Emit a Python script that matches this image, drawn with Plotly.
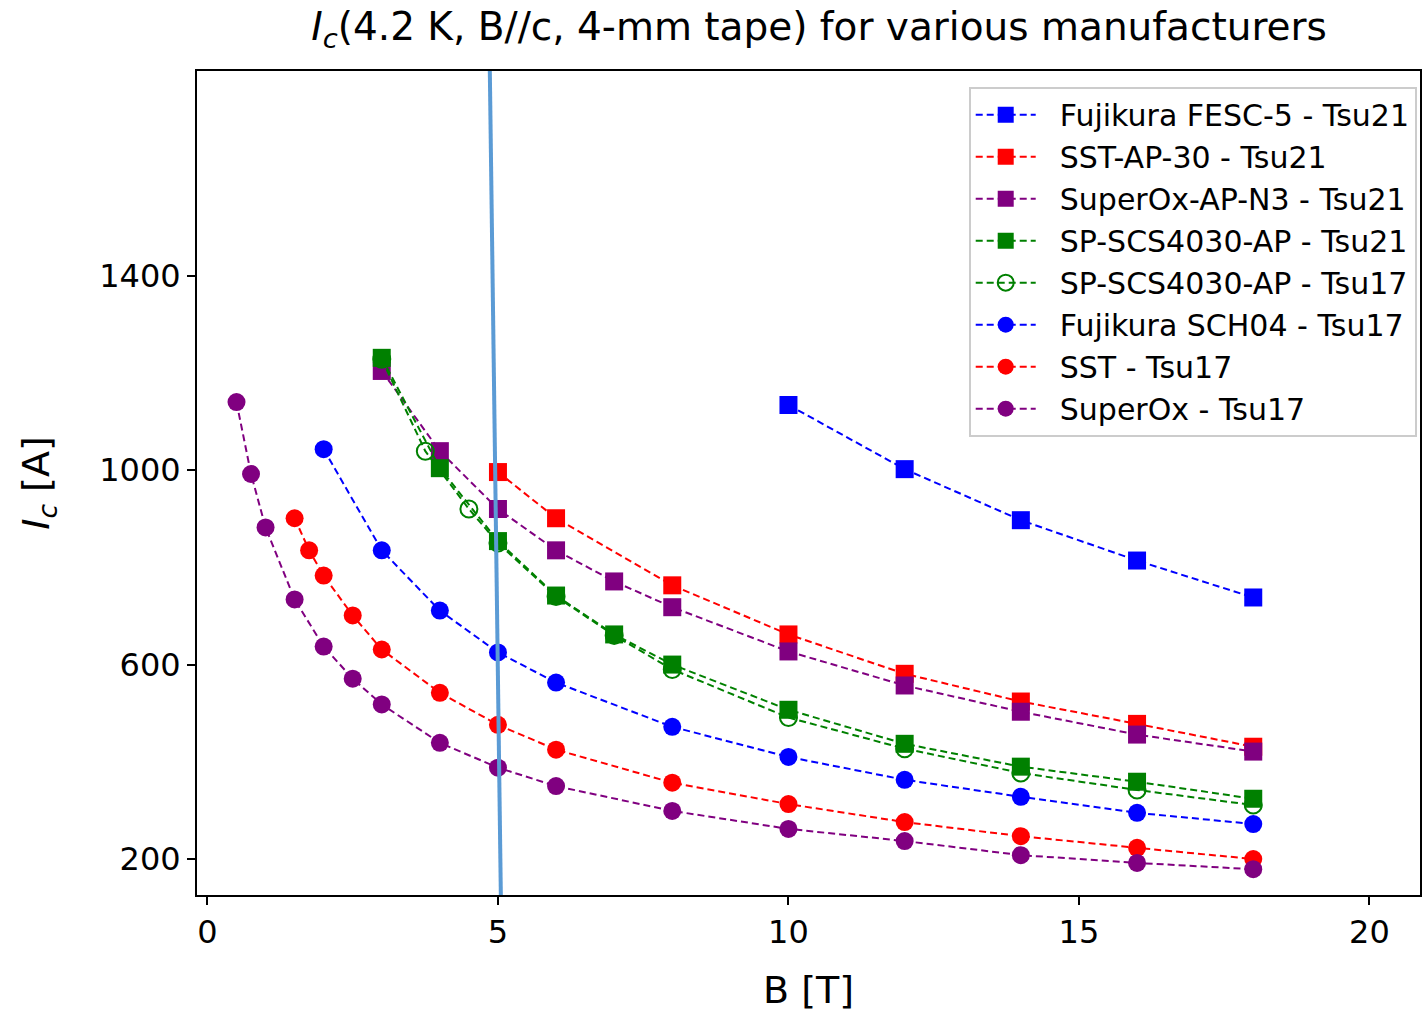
import plotly.graph_objects as go

# ---- data ----
fesc5_x = [10, 12, 14, 16, 18]
fesc5_y = [1134, 1002, 897, 814, 738]

sstap_x = [5, 6, 8, 10, 12, 14, 16, 18]
sstap_y = [996, 901, 763, 662, 581, 524, 478, 431]

soxap_x = [3, 4, 5, 6, 7, 8, 10, 12, 14, 16, 18]
soxap_y = [1204, 1039, 920, 835, 771, 718, 627, 557, 503, 456, 421]

sp21_x = [3, 4, 5, 6, 7, 8, 10, 12, 14, 16, 18]
sp21_y = [1231, 1004, 854, 742, 662, 600, 507, 437, 390, 359, 324]

sp17_x = [3, 3.75, 4.5, 5, 6, 7, 8, 10, 12, 14, 16, 18]
sp17_y = [1228, 1039, 920, 850, 740, 660, 590, 491, 427, 377, 342, 311]

fsch_x = [2, 3, 4, 5, 6, 8, 10, 12, 14, 16, 18]
fsch_y = [1043, 835, 711, 625, 563, 472, 410, 363, 328, 295, 272]

sst17_x = [1.5, 1.75, 2, 2.5, 3, 4, 5, 6, 8, 10, 12, 14, 16, 18]
sst17_y = [901, 835, 783, 701, 631, 542, 476, 425, 357, 313, 276, 247, 223, 200]

sox17_x = [0.5, 0.75, 1, 1.5, 2, 2.5, 3, 4, 5, 6, 8, 10, 12, 14, 16, 18]
sox17_y = [1140, 992, 882, 734, 637, 571, 518, 439, 388, 350, 299, 262, 237, 208, 192, 179]

marker_line_x = [4.86, 5.05]
marker_line_y = [1821, 124]

series = [
    ("Fujikura FESC-5 - Tsu21", fesc5_x, fesc5_y, "blue", "square"),
    ("SST-AP-30 - Tsu21", sstap_x, sstap_y, "red", "square"),
    ("SuperOx-AP-N3 - Tsu21", soxap_x, soxap_y, "purple", "square"),
    ("SP-SCS4030-AP - Tsu21", sp21_x, sp21_y, "green", "square"),
    ("SP-SCS4030-AP - Tsu17", sp17_x, sp17_y, "green", "circle-open"),
    ("Fujikura SCH04 - Tsu17", fsch_x, fsch_y, "blue", "circle"),
    ("SST - Tsu17", sst17_x, sst17_y, "red", "circle"),
    ("SuperOx - Tsu17", sox17_x, sox17_y, "purple", "circle"),
]

FONT = "DejaVu Sans"
NBSP = "\u00a0"
fig = go.Figure()
for name, xs, ys, col, sym in series:
    if sym == "circle-open":
        mk = dict(symbol=sym, size=17, color=col, line=dict(width=2, color=col))
    else:
        mk = dict(symbol=sym, size=18, color=col, line=dict(width=0))
    fig.add_trace(go.Scatter(
        x=xs, y=ys, name=NBSP * 2 + name, mode="lines+markers",
        line=dict(color=col, width=2, dash="7px,4px"),
        marker=mk,
    ))

fig.add_trace(go.Scatter(
    x=marker_line_x, y=marker_line_y, mode="lines", showlegend=False,
    line=dict(color="#5b9bd5", width=4), hoverinfo="skip",
))

fig.update_layout(
    width=1422, height=1012,
    margin=dict(l=197, r=0, t=71, b=117),
    paper_bgcolor="white", plot_bgcolor="white",
    font=dict(family=FONT, color="black", size=32),
    title=dict(
        text="<i>I</i><sub><i>c</i></sub>(4.2 K, B//c, 4-mm tape) for various manufacturers",
        font=dict(family=FONT, size=39, color="black"),
        x=0.576, xref="container", xanchor="center",
        y=0.974, yref="container", yanchor="middle",
    ),
    xaxis=dict(
        range=[-0.18, 20.87], tickvals=[0, 5, 10, 15, 20],
        ticks="outside", ticklen=8, tickwidth=1.5, tickcolor="black",
        showline=True, linecolor="black", linewidth=2, mirror=True,
        showgrid=False, zeroline=False,
        tickfont=dict(family=FONT, size=32),
        title=dict(text="B [T]", font=dict(family=FONT, size=38), standoff=26),
    ),
    yaxis=dict(
        range=[126, 1821], tickvals=[200, 600, 1000, 1400],
        ticks="outside", ticklen=8, tickwidth=1.5, tickcolor="black",
        showline=True, linecolor="black", linewidth=2, mirror=True,
        showgrid=False, zeroline=False,
        tickfont=dict(family=FONT, size=32),
        title=dict(text="<i>I</i><sub><i>c</i></sub> [A]", font=dict(family=FONT, size=38), standoff=38),
    ),
    legend=dict(
        x=0.631, y=0.981, xanchor="left", yanchor="top",
        bgcolor="white", bordercolor="#cccccc", borderwidth=2,
        font=dict(family=FONT, size=30),
        itemwidth=60, tracegroupgap=0,
    ),
)

fig.write_html("out.html")
